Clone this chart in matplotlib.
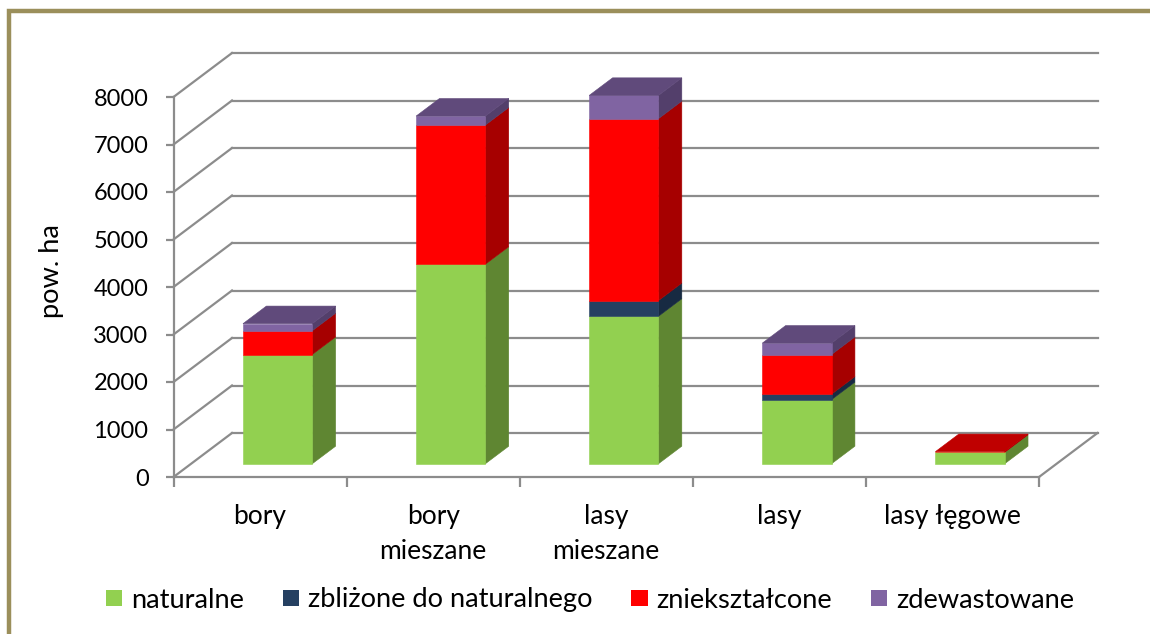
import matplotlib
matplotlib.use("Agg")
import matplotlib.pyplot as plt
from matplotlib.patches import Patch, Rectangle

categories = ["bory", "bory\nmieszane", "lasy\nmieszane", "lasy", "lasy łęgowe"]
series_names = ["naturalne", "zbliżone do naturalnego", "zniekształcone", "zdewastowane"]
naturalne = [2300, 4200, 3105, 1350, 240]
zblizone = [0, 0, 330, 115, 0]
znieksztalcone = [500, 2930, 3830, 835, 15]
zdewastowane = [150, 190, 490, 240, 0]
y_ticks = [0, 1000, 2000, 3000, 4000, 5000, 6000, 7000, 8000]

front_colors = ["#92D050", "#254061", "#FF0000", "#8064A2"]
side_colors = ["#5F8632", "#172A42", "#A60000", "#533F6B"]
top_colors = ["#6F9E3C", "#1B3150", "#BF0000", "#604A7B"]
GRID = "#8C8C8C"
TEXT = "#000000"
FONT = "Lato"
FS_TICK = 17.0
FS_CAT = 19
FS_LEG = 19.6
FS_LAB = 19.6

W, H = 1150, 634
plt.rcParams["font.family"] = [FONT, "DejaVu Sans"]
fig = plt.figure(figsize=(W / 100, H / 100), dpi=100, facecolor="white")
ax = fig.add_axes([173.5 / W, (H - 477) / H, 865.5 / W, 380 / H])
ax.set_xlim(0, 5)
ax.set_ylim(0, 8000)
ax.patch.set_visible(False)

# oblique projection: depth z in 0..1 shifts by fixed fractions of the x and y units
KX = 58.5 / 173.1
KY = 44 / 0.0475


def pr(x, z, y):
    return x + z * KX, y + z * KY


def face(pts, color, zorder):
    xs, ys = zip(*[pr(*p) for p in pts])
    ax.fill(xs, ys, color=color, lw=0.4, zorder=zorder, clip_on=False)


def seg(a, b):
    xs, ys = zip(pr(*a), pr(*b))
    ax.plot(xs, ys, color=GRID, lw=1.6, zorder=1, clip_on=False, solid_capstyle="projecting")


for v in y_ticks:
    seg((0, 0, v), (0, 1, v))
    seg((0, 1, v), (5, 1, v))
seg((5, 0, 0), (5, 1, 0))

# stacked boxes
BAR_L, BAR_R = 0.3, 0.7
Z0, Z1 = 0.3, 0.7
stack = [naturalne, zblizone, znieksztalcone, zdewastowane]
for i in range(len(categories)):
    x0, x1 = i + BAR_L, i + BAR_R
    base = 0
    last = None
    for s, values in enumerate(stack):
        v = values[i]
        if v <= 0:
            continue
        top = base + v
        face([(x1, Z0, base), (x1, Z1, base), (x1, Z1, top), (x1, Z0, top)], side_colors[s], 3)
        face([(x0, Z0, base), (x1, Z0, base), (x1, Z0, top), (x0, Z0, top)], front_colors[s], 4)
        base = top
        last = s
    face([(x0, Z0, base), (x1, Z0, base), (x1, Z1, base), (x0, Z1, base)], top_colors[last], 4)

for side in ("top", "right"):
    ax.spines[side].set_visible(False)
for side in ("left", "bottom"):
    ax.spines[side].set_color(GRID)
    ax.spines[side].set_linewidth(1.6)
    ax.spines[side].set_zorder(2)

ax.set_yticks(y_ticks)
ax.tick_params(axis="y", length=6, width=1.6, color=GRID, pad=12, labelsize=FS_TICK, labelcolor=TEXT)
ax.set_xticks(range(6))
ax.set_xticklabels([])
ax.set_xticks([i + 0.5 for i in range(5)], categories, minor=True)
ax.tick_params(axis="x", which="major", length=7, width=1.6, color=GRID)
ax.tick_params(axis="x", which="minor", length=0, pad=19.5, labelsize=FS_CAT, labelcolor=TEXT)
for lab in ax.get_xticklabels(minor=True):
    lab.set_linespacing(1.5)
    lab.set_verticalalignment("top")

ax.set_ylabel("pow. ha", fontsize=FS_LAB, color=TEXT)
ax.yaxis.set_label_coords((64 - 173.5) / 865.5, (477 - 271) / 380)

handles = [Patch(facecolor=c, edgecolor="none") for c in front_colors]
fig.legend(
    handles, series_names, ncol=4, loc="center left",
    bbox_to_anchor=(106 / W, (H - 600) / H), frameon=False, fontsize=FS_LEG,
    handlelength=0.6, handleheight=0.56, handletextpad=0.33, columnspacing=1.42,
    borderaxespad=0, borderpad=0,
)

# chart-area frame: only its left and top edges lie inside the picture
fig.add_artist(Rectangle((8.8 / W, -1), 2, 2 - 11 / H, transform=fig.transFigure,
                         facecolor="none", edgecolor="#9B8F5B", lw=3.2))

fig.savefig("out.png", dpi=100, facecolor="white")
